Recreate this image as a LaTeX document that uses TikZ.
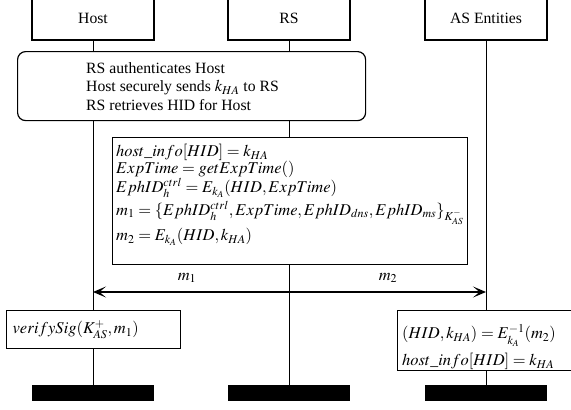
\documentclass[tikz,border=0pt]{standalone}
\usepackage{mathptmx}
\usepackage{fontspec}
\setmainfont{Liberation Serif}
\DeclareMathSizes{15.7}{16.5}{12}{9.3}
\usetikzlibrary{arrows.meta,backgrounds}
\begin{document}
\begin{tikzpicture}[x=1pt,y=-1pt,
  font=\fontsize{15.7}{18.5}\selectfont,
  box/.style={draw, fill=white, line width=1.2pt},
  head/.style={box, minimum width=122pt, minimum height=44pt, inner sep=0pt},
  bar/.style={fill=black, minimum width=122pt, minimum height=16pt, inner sep=0pt, anchor=north},
  life/.style={line width=1pt},
  txt/.style={align=left, inner sep=0pt},
  msg/.style={line width=1.1pt, {Stealth[length=13pt,width=11pt,inset=6.5pt]}-{Stealth[length=13pt,width=11pt,inset=6.5pt]}}
]
\useasboundingbox (0,0) rectangle (571,410);
% participants
\node[head] (host) at (93,18) {Host};
\node[head] (rs) at (289,18) {RS};
\node[head] (as) at (486,18) {AS Entities};
% end bars
\node[bar] (barH) at (93,385) {};
\node[bar] (barR) at (289,385) {};
\node[bar] (barA) at (486,385) {};
% shared step
\node[box, rounded corners=8pt, minimum width=348pt, minimum height=69pt, anchor=north west] (auth) at (17,51) {};
\node[txt, anchor=west] (authtext) at (86,86.5)
  {RS authenticates Host\\Host securely sends $k_{HA}$ to RS\\RS retrieves HID for Host};
% RS computation
\node[box, anchor=north west, minimum width=355pt, minimum height=127pt] (calc) at (112,137) {};
\node[txt, anchor=north west, font=\fontsize{15.7}{17}\selectfont] (calctext) at (116,144)
  {$host\_info[HID] = k_{HA}$\\
   $ExpTime = getExpTime()$\\
   $EphID_h^{ctrl} = E_{k_A}(HID, ExpTime)$\\[2pt]
   $m_1 = \{EphID_h^{ctrl}, ExpTime, EphID_{dns}, EphID_{ms}\}_{K_{AS}^-}$\\[3pt]
   $m_2 = E_{k_A}(HID, k_{HA})$};
% host verification
\node[box, anchor=north west, minimum width=174pt, minimum height=38pt, inner xsep=6pt, text width=162pt, align=left] (verify) at (6,310)
  {$verifySig(K_{AS}^+, m_1)$};
% AS storage
\node[box, anchor=north west, minimum width=182pt, minimum height=60pt] (store) at (397,310) {};
\node[txt, anchor=north west] (storetext) at (402,324)
  {$(HID, k_{HA}) = E_{k_A}^{-1}(m_2)$\\[6pt]
   $host\_info[HID] = k_{HA}$};
% lifelines
\begin{pgfonlayer}{background}
\draw[life] (host.south) -- (barH.north);
\draw[life] (rs.south) -- (barR.north);
\draw[life] (as.south) -- (barA.north);
\end{pgfonlayer}
% message
\coordinate (mL) at (93,292);
\coordinate (mR) at (486,292);
\draw[msg] (mL) -- (mR);
\node (m1) at (187,278) {$m_1$};
\node (m2) at (388,278) {$m_2$};
\end{tikzpicture}
\end{document}
